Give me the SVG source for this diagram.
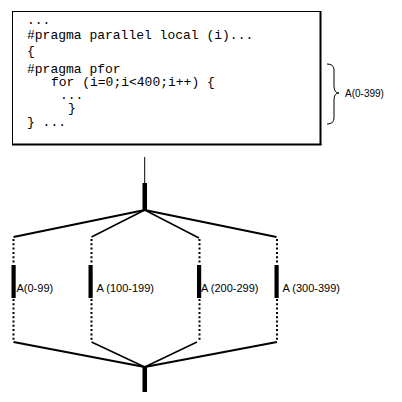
<svg xmlns="http://www.w3.org/2000/svg" width="402" height="402" viewBox="0 0 402 402">
<style>
.code{font-family:"Liberation Mono","Courier New",monospace;font-size:13px;fill:#000}
.lbl{font-family:"Liberation Sans",Arial,sans-serif;font-size:11px;fill:#000}
.bar{fill:#000}
.dot{stroke:#000;stroke-width:2;stroke-dasharray:2 2.3;fill:none}
.ln{stroke:#000;fill:none}
</style>
<rect width="402" height="402" fill="#fff"/>
<g id="code-box">
<rect x="12.5" y="11.5" width="308" height="133" fill="#fff" stroke="#000" stroke-width="1"/>
<line x1="320.5" y1="11" x2="320.5" y2="145" stroke="#000" stroke-width="2"/>
<line x1="12" y1="144.5" x2="321.5" y2="144.5" stroke="#000" stroke-width="2"/>
<text class="code" x="27" y="24">...</text>
<text class="code" x="27" y="39">#pragma parallel local (i)...</text>
<text class="code" x="27" y="55">{</text>
<text class="code" x="27" y="73">#pragma pfor</text>
<text class="code" x="51" y="86">for (i=0;i&lt;400;i++) {</text>
<text class="code" x="60" y="98.5">...</text>
<text class="code" x="68" y="112">}</text>
<text class="code" x="27" y="126">} ...</text>
</g>
<g id="brace">
<path class="ln" stroke-width="1" d="M327,64 Q334,64 334,70 L334,86 Q334,93 339,93 Q334,93 334,100 L334,118 Q334,124 327,124"/>
<text class="lbl" x="345" y="97" style="font-size:10px">A(0-399)</text>
</g>
<g id="node-top">
<rect class="bar" x="142.5" y="183" width="4.5" height="28"/>
</g>
<g id="node-a0">
<rect class="bar" x="11.5" y="265" width="4.2" height="33"/>
<text class="lbl" x="16.5" y="292">A(0-99)</text>
</g>
<g id="node-a1">
<rect class="bar" x="88.5" y="265" width="4.2" height="33"/>
<text class="lbl" x="96.5" y="292">A (100-199)</text>
</g>
<g id="node-a2">
<rect class="bar" x="197" y="265" width="4.2" height="33"/>
<text class="lbl" x="201" y="292">A (200-299)</text>
</g>
<g id="node-a3">
<rect class="bar" x="274.5" y="265" width="4.2" height="33"/>
<text class="lbl" x="282.5" y="292">A (300-399)</text>
</g>
<g id="node-bottom">
<rect class="bar" x="142.5" y="366" width="4.5" height="26"/>
</g>
<g id="connectors">
<line class="ln" x1="144.7" y1="157" x2="144.7" y2="184" stroke-width="1"/>
<line class="ln" x1="144.7" y1="210" x2="13.5" y2="237" stroke-width="2"/>
<line class="ln" x1="144.7" y1="210" x2="91.5" y2="237" stroke-width="1.5"/>
<line class="ln" x1="144.7" y1="210" x2="199" y2="238" stroke-width="1.5"/>
<line class="ln" x1="144.7" y1="210" x2="276.5" y2="237" stroke-width="2"/>
<line class="dot" x1="13.5" y1="239" x2="13.5" y2="263"/>
<line class="dot" x1="91.5" y1="239" x2="91.5" y2="263"/>
<line class="dot" x1="199.5" y1="239" x2="199.5" y2="263"/>
<line class="dot" x1="277" y1="239" x2="277" y2="263"/>
<line class="dot" x1="13.5" y1="299" x2="13.5" y2="341"/>
<line class="dot" x1="91.5" y1="299" x2="91.5" y2="341"/>
<line class="dot" x1="199.5" y1="299" x2="199.5" y2="341"/>
<line class="dot" x1="277" y1="299" x2="277" y2="341"/>
<line class="ln" x1="13.5" y1="342" x2="144.7" y2="367" stroke-width="2"/>
<line class="ln" x1="91.5" y1="342" x2="144.7" y2="367" stroke-width="1.5"/>
<line class="ln" x1="197" y1="342" x2="144.7" y2="367" stroke-width="1.5"/>
<line class="ln" x1="277" y1="342" x2="144.7" y2="367" stroke-width="2"/>
</g>
</svg>
